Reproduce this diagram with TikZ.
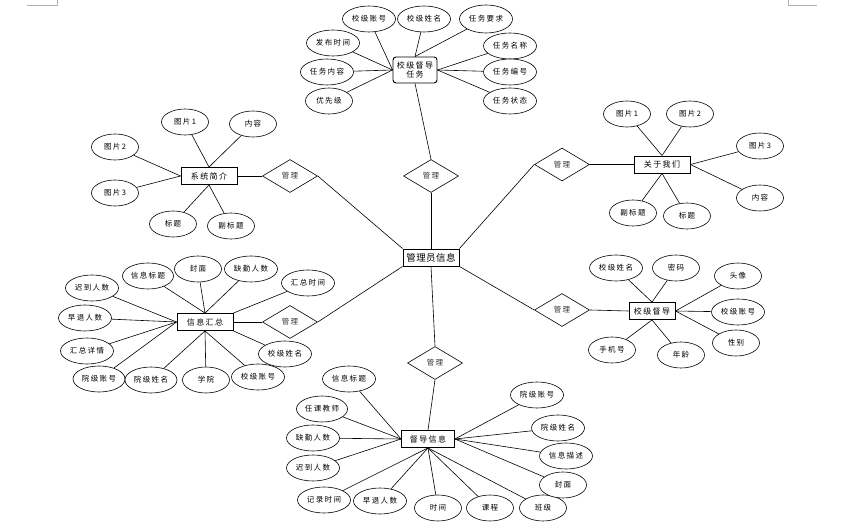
\documentclass[tikz,border=0pt]{standalone}
\usepackage{fontspec}
\usetikzlibrary{shapes.geometric}
\newfontfamily\cjk[LetterSpace=18]{Noto Sans CJK SC}
\newfontfamily\cjkbig[LetterSpace=4]{Noto Sans CJK SC}
\begin{document}
\begin{tikzpicture}
	[
	x = 1pt,
	y = -1pt,
	link/.style = {color = black, line width = 0.6pt},
	corner/.style = {color = black!30, line width = 0.6pt},
	entity/.style = {draw = black, line width = 0.9pt, fill = white, inner sep = 0pt,
		minimum width = 56pt, minimum height = 17pt, font = \cjk\fontsize{8}{9.5}\selectfont},
	taskbox/.style = {entity, rounded corners = 3pt, align = center,
		minimum width = 44pt, minimum height = 26pt},
	mainbox/.style = {entity, minimum width = 56pt, minimum height = 17pt,
		font = \cjkbig\fontsize{9.5}{11}\selectfont},
	relation/.style = {diamond, draw = black, line width = 0.6pt, fill = white, inner sep = 0pt,
		aspect = 1.67, minimum width = 55pt, minimum height = 33pt,
		text = black!80, font = \cjk\fontsize{7.5}{9}\selectfont},
	attr/.style = {ellipse, draw = black, line width = 0.6pt, fill = white, inner sep = 0pt,
		minimum width = 53pt, minimum height = 26pt, font = \cjk\fontsize{7.5}{9}\selectfont},
	attrs/.style = {attr, minimum width = 47pt}]

	\useasboundingbox (0,0) rectangle (849,529);

	%% page corner marks
	\draw[corner] (27,5) -- (57,5) -- (57,0);
	\draw[corner] (788,0) -- (788,5) -- (817,5);

	%% Drawing the entities and relations

	\node[mainbox] (admin) at (431,257.5) {管理员信息};
	\node[taskbox] (task) at (415,70) {校级督导\\任务};
	\node[entity] (sys) at (209,176) {系统简介};
	\node[entity] (about) at (662,164.5) {关于我们};
	\node[entity] (sum) at (205,322) {信息汇总};
	\node[entity, minimum width = 46pt] (sup) at (652,311) {校级督导};
	\node[entity, minimum width = 53pt] (info) at (428,439) {督导信息};

	\node[relation] (mgtop) at (431,176) {管理};
	\node[relation] (mgsys) at (290,176) {管理};
	\node[relation] (mgabout) at (562,164.5) {管理};
	\node[relation] (mgsum) at (290,322) {管理};
	\node[relation] (mgsup) at (562,310) {管理};
	\node[relation] (mginfo) at (435,363) {管理};

	%% Attributes of the task

	\node[attr] (tacc) at (369,19) {校级账号};
	\node[attr] (tname) at (424,19) {校级姓名};
	\node[attr, minimum height = 28pt] (treq) at (486,19) {任务要求};
	\node[attr] (ttime) at (333,43) {发布时间};
	\node[attr] (ttitle) at (510,46) {任务名称};
	\node[attr] (tcont) at (327,72) {任务内容};
	\node[attr] (tno) at (510,72) {任务编号};
	\node[attrs] (tprio) at (329,101) {优先级};
	\node[attr] (tstate) at (510,101) {任务状态};

	%% Attributes of the introduction

	\node[attrs] (simgA) at (185,122) {图片1};
	\node[attrs] (scont) at (253,124) {内容};
	\node[attrs] (simgB) at (115,147) {图片2};
	\node[attrs] (simgC) at (115,193) {图片3};
	\node[attrs] (stitle) at (173,224) {标题};
	\node[attrs] (ssub) at (231,226) {副标题};

	%% Attributes of about us

	\node[attrs] (aimgA) at (627,114) {图片1};
	\node[attrs] (aimgB) at (690,114) {图片2};
	\node[attrs] (aimgC) at (760,146) {图片3};
	\node[attrs] (acont) at (760,198) {内容};
	\node[attrs] (asub) at (633,213) {副标题};
	\node[attrs] (atitle) at (687,216) {标题};

	%% Attributes of the summary

	\node[attr] (hlate) at (92,288) {迟到人数};
	\node[attr, minimum width = 51pt] (htitle) at (148,276) {信息标题};
	\node[attrs] (hcover) at (198,269) {封面};
	\node[attr] (habs) at (251,269) {缺勤人数};
	\node[attr] (htime) at (308,283) {汇总时间};
	\node[attr] (hearly) at (85,318) {早退人数};
	\node[attr] (hdetail) at (87,351) {汇总详情};
	\node[attr, minimum width = 52pt] (hcacc) at (99,379) {院级账号};
	\node[attr, minimum width = 52pt] (hcname) at (151,380) {院级姓名};
	\node[attrs] (hcol) at (206,380) {学院};
	\node[attr] (hsacc) at (258,377) {校级账号};
	\node[attr] (hsname) at (285,354) {校级姓名};

	%% Attributes of the supervisor

	\node[attr] (uname) at (616,268) {校级姓名};
	\node[attrs] (upwd) at (676,268) {密码};
	\node[attrs] (uavatar) at (738,276) {头像};
	\node[attr] (uacc) at (738,312) {校级账号};
	\node[attrs] (usex) at (736,343) {性别};
	\node[attrs] (uphone) at (612,350) {手机号};
	\node[attrs] (uage) at (681,355) {年龄};

	%% Attributes of the supervision record

	\node[attr] (ititle) at (349,379) {信息标题};
	\node[attr, minimum width = 51pt] (iteach) at (322,409) {任课教师};
	\node[attr] (iabs) at (313,438) {缺勤人数};
	\node[attr] (ilate) at (313,468) {迟到人数};
	\node[attr] (irec) at (324,500) {记录时间};
	\node[attr] (iearly) at (380,501) {早退人数};
	\node[attrs] (itime) at (438,508) {时间};
	\node[attrs] (icourse) at (490,508) {课程};
	\node[attrs] (iclass) at (543,508) {班级};
	\node[attr] (icacc) at (537,395) {院级账号};
	\node[attr] (icname) at (558,428) {院级姓名};
	\node[attr] (idesc) at (566,456) {信息描述};
	\node[attrs] (icover) at (563,485) {封面};

	%% Drawing the links

	\draw[link] (admin.north) -- (mgtop.south);
	\draw[link] (mgtop.north) -- (task.south);
	\draw[link] (admin.north west) -- (mgsys.east);
	\draw[link] (mgsys.west) -- (sys.east);
	\draw[link] (admin.north east) -- (mgabout.west);
	\draw[link] (mgabout.east) -- (about.west);
	\draw[link] (admin.south west) -- (mgsum.east);
	\draw[link] (mgsum.west) -- (sum.east);
	\draw[link] (admin.south east) -- (mgsup.west);
	\draw[link] (mgsup.east) -- (sup.west);
	\draw[link] (admin.south) -- (mginfo.north);
	\draw[link] (mginfo.south) -- (info.north);

	\draw[link] (task.west) -- (tacc);
	\draw[link] (task.north) -- (tname);
	\draw[link] (task.north) -- (treq);
	\draw[link] (task.west) -- (ttime);
	\draw[link] (task.east) -- (ttitle);
	\draw[link] (task.west) -- (tcont);
	\draw[link] (task.east) -- (tno);
	\draw[link] (task.west) -- (tprio);
	\draw[link] (task.east) -- (tstate);

	\draw[link] (sys.north) -- (simgA);
	\draw[link] (sys.north) -- (scont);
	\draw[link] (sys.west) -- (simgB);
	\draw[link] (sys.west) -- (simgC);
	\draw[link] (sys.south) -- (stitle);
	\draw[link] (sys.south) -- (ssub);

	\draw[link] (about.north) -- (aimgA);
	\draw[link] (about.north) -- (aimgB);
	\draw[link] (about.east) -- (aimgC);
	\draw[link] (about.east) -- (acont);
	\draw[link] (about.south) -- (asub);
	\draw[link] (about.south) -- (atitle);

	\draw[link] (sum.west) -- (hlate);
	\draw[link] (sum.north) -- (htitle);
	\draw[link] (sum.north) -- (hcover);
	\draw[link] (sum.north) -- (habs);
	\draw[link] (sum.north east) -- (htime);
	\draw[link] (sum.west) -- (hearly);
	\draw[link] (sum.west) -- (hdetail);
	\draw[link] (sum.west) -- (hcacc);
	\draw[link] (sum.south) -- (hcname);
	\draw[link] (sum.south) -- (hcol);
	\draw[link] (sum.south) -- (hsacc);
	\draw[link] (sum.south east) -- (hsname);

	\draw[link] (sup.north) -- (uname);
	\draw[link] (sup.north) -- (upwd);
	\draw[link] (sup.east) -- (uavatar);
	\draw[link] (sup.east) -- (uacc);
	\draw[link] (sup.east) -- (usex);
	\draw[link] (sup.south) -- (uphone);
	\draw[link] (sup.south) -- (uage);

	\draw[link] (info.west) -- (ititle);
	\draw[link] (info.west) -- (iteach);
	\draw[link] (info.west) -- (iabs);
	\draw[link] (info.west) -- (ilate);
	\draw[link] (info.south) -- (irec);
	\draw[link] (info.south) -- (iearly);
	\draw[link] (info.south) -- (itime);
	\draw[link] (info.south) -- (icourse);
	\draw[link] (info.south) -- (iclass);
	\draw[link] (info.east) -- (icacc);
	\draw[link] (info.east) -- (icname);
	\draw[link] (info.east) -- (idesc);
	\draw[link] (info.east) -- (icover);
\end{tikzpicture}
\end{document}
